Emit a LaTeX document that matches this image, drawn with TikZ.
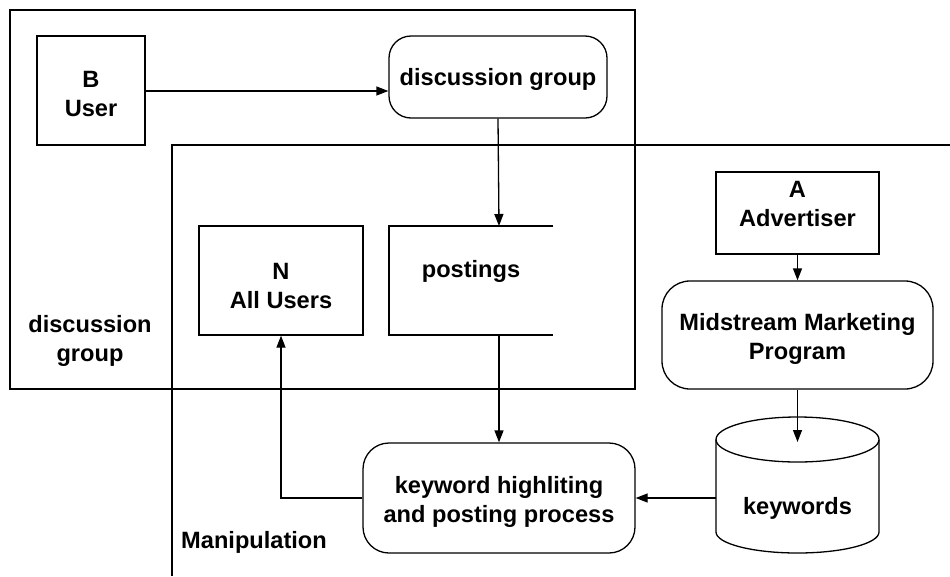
\documentclass[tikz,border=0pt]{standalone}
\usepackage{fontspec}
\setmainfont{Liberation Sans}
\usetikzlibrary{arrows.meta}
\begin{document}
\begin{tikzpicture}[x=1pt,y=-1pt,
  every node/.style={font=\fontsize{23.6}{28.5}\selectfont\bfseries},
  box/.style={draw,line width=1.3pt,rectangle,inner sep=0pt},
  rbox/.style={box,rounded corners=24pt},
  txt/.style={align=center,inner sep=0pt},
  ln/.style={line width=1.3pt},
  arr/.style={line width=1.3pt,-{Triangle[length=12pt,width=9pt]}}]
\useasboundingbox (0,0) rectangle (950,576);
% regions
\node[box,minimum width=625pt,minimum height=379pt] (outer) at (322.5,199.5) {};
\coordinate (m1) at (172,576);
\coordinate (m2) at (172,145);
\coordinate (m3) at (950,145);
\draw[ln] (m1) -- (m2) -- (m3);
% boxes
\node[box,minimum width=108pt,minimum height=109pt] (buser) at (91,90.5) {};
\node[txt] (buserT) at (91,94) {B\\User};
\node[rbox,rounded corners=22pt,minimum width=218pt,minimum height=82pt] (dg) at (498,77) {};
\node[txt] (dgT) at (498,79) {discussion group};
\node[box,minimum width=164pt,minimum height=109pt] (nusers) at (281,280.5) {};
\node[txt] (nusersT) at (281,286) {N\\All Users};
% postings (open store)
\coordinate (p1) at (553,226);
\coordinate (p2) at (389,226);
\coordinate (p3) at (389,335);
\coordinate (p4) at (553,335);
\draw[ln] (p1) -- (p2) -- (p3) -- (p4);
\coordinate (ptop) at (499,226);
\coordinate (pbot) at (499,335);
\node[txt] (postT) at (471,271) {postings};
\node[box,minimum width=163pt,minimum height=82pt] (adv) at (797.5,213) {};
\node[txt] (advT) at (797.5,204) {A\\Advertiser};
\node[rbox,rounded corners=28pt,minimum width=271pt,minimum height=108pt] (mmp) at (797.5,335) {};
\node[txt] (mmpT) at (797.5,339) {Midstream Marketing\\Program};
\node[rbox,rounded corners=26pt,minimum width=272pt,minimum height=110pt] (kproc) at (499,498) {};
\node[txt] (kprocT) at (499,502) {keyword highliting\\and posting process};
% cylinder
\coordinate (ctop) at (797.5,439.5);
\coordinate (cwest) at (716,498);
\draw[ln] (ctop) ellipse [x radius=81.5pt, y radius=22.5pt];
\draw[ln] (716,439.5) -- (716,532) arc[start angle=180,end angle=360,x radius=81.5pt,y radius=21pt] -- (879,439.5);
\node[txt] (kwT) at (797.5,508) {keywords};
% labels
\node[txt] (dgLab) at (90,341) {discussion\\group};
\node[txt] (manLab) at (254,542) {Manipulation};
% connectors
\draw[arr] (buser.east |- 0,91) -- (dg.west |- 0,91);
\draw[arr] (dg.south) -- (ptop);
\draw[arr] (pbot) -- (kproc.north);
\draw[arr] (adv.south) -- (mmp.north);
\draw[arr] (mmp.south) -- (797.5,442);
\draw[arr] (cwest) -- (kproc.east);
\draw[arr] (kproc.west) -| (nusers.south);
\end{tikzpicture}
\end{document}
